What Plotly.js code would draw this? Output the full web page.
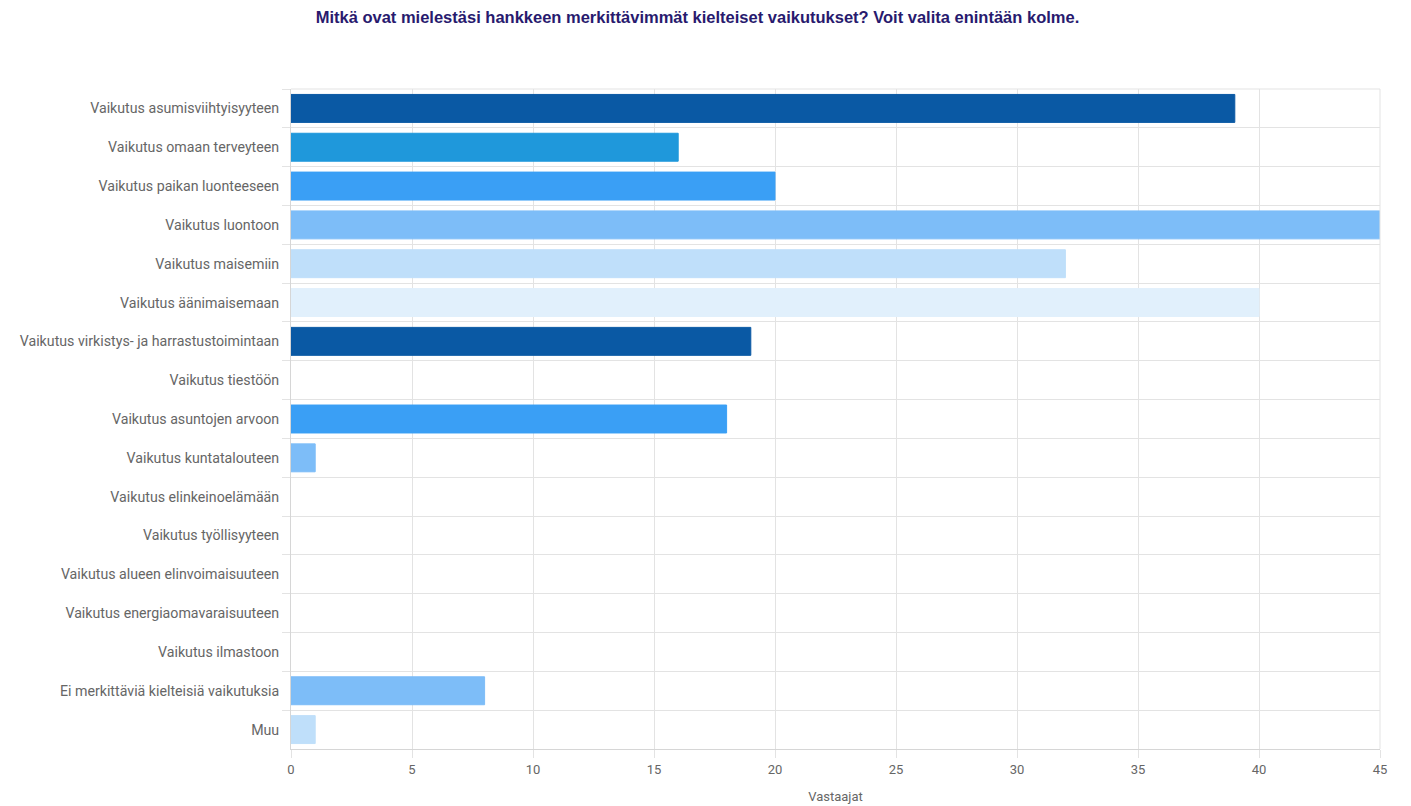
<!DOCTYPE html>
<html>
<head>
<meta charset="utf-8">
<script src="https://cdn.plot.ly/plotly-3.0.1.min.js"></script>
<style>html,body{margin:0;padding:0;background:#fff;}#chart{width:1411px;height:806px;}</style>
</head>
<body>
<div id="chart"></div>
<script>
const categories = [
  "Vaikutus asumisviihtyisyyteen",
  "Vaikutus omaan terveyteen",
  "Vaikutus paikan luonteeseen",
  "Vaikutus luontoon",
  "Vaikutus maisemiin",
  "Vaikutus äänimaisemaan",
  "Vaikutus virkistys- ja harrastustoimintaan",
  "Vaikutus tiestöön",
  "Vaikutus asuntojen arvoon",
  "Vaikutus kuntatalouteen",
  "Vaikutus elinkeinoelämään",
  "Vaikutus työllisyyteen",
  "Vaikutus alueen elinvoimaisuuteen",
  "Vaikutus energiaomavaraisuuteen",
  "Vaikutus ilmastoon",
  "Ei merkittäviä kielteisiä vaikutuksia",
  "Muu"
];
const values = [39, 16, 20, 45, 32, 40, 19, 0, 18, 1, 0, 0, 0, 0, 0, 8, 1];
const palette = ["#0a59a4", "#1f98db", "#3a9ff5", "#7dbdf8", "#bfdffa", "#e1f0fc"];
const xTicks = [0, 5, 10, 15, 20, 25, 30, 35, 40, 45];

const colors = categories.map((c, i) => palette[i % palette.length]);
const lineWidths = values.map(v => (v > 0 ? 1 : 0));

const trace = {
  type: "bar",
  orientation: "h",
  x: values,
  y: categories,
  marker: { color: colors, line: { color: colors, width: lineWidths } },
  hoverinfo: "x+y"
};

const layout = {
  width: 1411,
  height: 806,
  paper_bgcolor: "#ffffff",
  plot_bgcolor: "#ffffff",
  margin: { l: 291, r: 31, t: 89, b: 57, pad: 0 },
  title: {
    text: "Mitkä ovat mielestäsi hankkeen merkittävimmät kielteiset vaikutukset? Voit valita enintään kolme.",
    font: { family: "Liberation Sans, Arial, sans-serif", size: 16.5, color: "#281a6e", weight: "bold" },
    x: 0.4943, xanchor: "center", y: 0.979, yanchor: "middle"
  },
  bargap: 0.28,
  showlegend: false,
  xaxis: {
    range: [0, 45],
    tickvals: xTicks,
    ticktext: xTicks.map(String),
    showgrid: true,
    gridcolor: "#e3e3e3",
    gridwidth: 1,
    zeroline: false,
    showline: true,
    linecolor: "#d6d6d6",
    ticks: "outside",
    ticklen: 8,
    tickcolor: "#e3e3e3",
    tickfont: { family: "Roboto, sans-serif", size: 13, color: "#666666" },
    title: { text: "Vastaajat", font: { family: "Roboto, sans-serif", size: 13, color: "#666666" }, standoff: 16 },
    fixedrange: true
  },
  yaxis: {
    type: "category",
    autorange: "reversed",
    tickson: "boundaries",
    showgrid: true,
    gridcolor: "#e3e3e3",
    gridwidth: 1,
    zeroline: false,
    showline: true,
    linecolor: "#d6d6d6",
    ticks: "outside",
    ticklen: 8,
    tickcolor: "#e3e3e3",
    ticklabelstandoff: 8,
    tickfont: { family: "Roboto, sans-serif", size: 14.2, color: "#666666" },
    fixedrange: true
  },
  shapes: [
    { type: "line", xref: "paper", yref: "paper", x0: 0, x1: 1, y0: 1, y1: 1, line: { color: "#e3e3e3", width: 1 } },
    { type: "line", xref: "paper", yref: "paper", x0: 1, x1: 1, y0: 0, y1: 1, line: { color: "#e3e3e3", width: 1 } }
  ]
};

Plotly.newPlot("chart", [trace], layout, { displayModeBar: false, staticPlot: true });
</script>
</body>
</html>
